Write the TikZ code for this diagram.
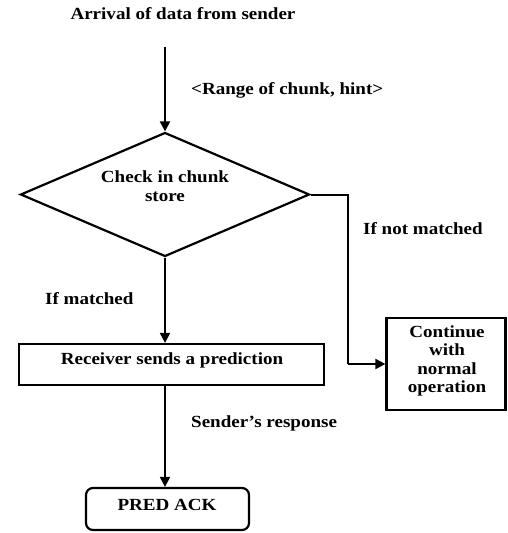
\documentclass[tikz,border=0pt]{standalone}
\usepackage{fontspec}
\setmainfont{Liberation Serif}[FakeStretch=1.12]
\usetikzlibrary{arrows.meta,shapes.geometric}
\begin{document}
\begin{tikzpicture}[x=1pt,y=-1pt,
  every node/.style={font=\fontsize{17}{19}\selectfont\bfseries},
  line/.style={line width=2pt},
  arr/.style={line width=2pt,-{Triangle[length=10pt,width=10pt]}},
  boxsty/.style={draw,line width=2.2pt,inner sep=0pt},
  lbl/.style={anchor=west,inner sep=0pt}]
\useasboundingbox (0,0) rectangle (507,533);
\node[inner sep=0pt] (title) at (183,14) {Arrival of data from sender};
\coordinate (start) at (165,47);
\node[boxsty,diamond,aspect=2.33,minimum width=289,minimum height=124] (dia) at (165,194.5) {};
\node[align=center,inner sep=0pt] (diat) at (165,186) {Check in chunk\\store};
\node[boxsty,minimum width=305,minimum height=41] (rec) at (171.5,364.5) {};
\node[inner sep=0pt] (rect) at (172,360) {Receiver sends a prediction};
\node[boxsty,minimum width=119,minimum height=92] (cont) at (446,364) {};
\node[align=center,inner sep=0pt,font=\fontsize{17}{18.5}\selectfont\bfseries] (contt) at (447,361) {Continue\\with\\normal\\operation};
\node[boxsty,rounded corners=7pt,minimum width=163,minimum height=42] (ack) at (167.5,509) {};
\node[inner sep=0pt] (ackt) at (167,505) {PRED ACK};
\coordinate (bend2) at (348,364);
\draw[arr] (start) -- (dia.north);
\draw[line] (dia.east) -| (bend2);
\draw[arr] (bend2) -- (cont.west);
\draw[arr] (dia.south) -- (dia.south |- rec.north);
\draw[arr] (dia.south |- rec.south) -- (dia.south |- ack.north);
\node[lbl] (l1) at (191,90) {<Range of chunk, hint>};
\node[lbl] (l2) at (363,229) {If not matched};
\node[lbl] (l3) at (45,299) {If matched};
\node[lbl] (l4) at (191,423) {Sender’s response};
\end{tikzpicture}
\end{document}
